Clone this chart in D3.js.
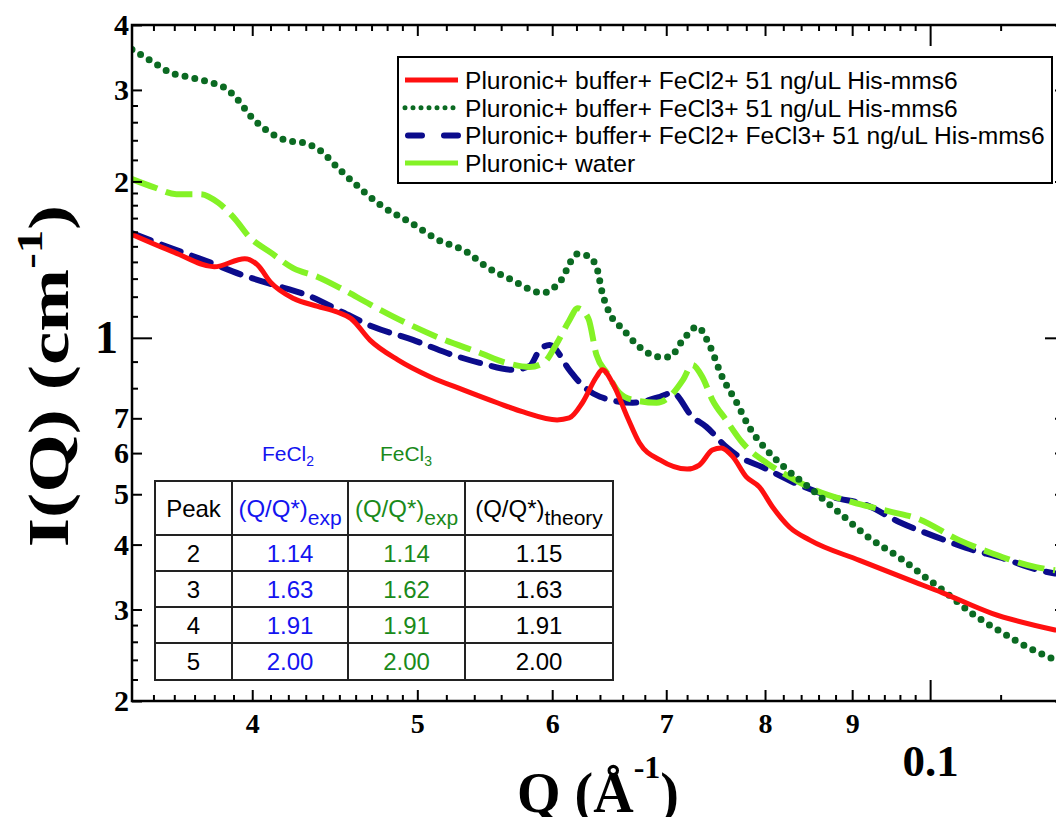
<!DOCTYPE html>
<html>
<head>
<meta charset="utf-8">
<script src="https://cdn.jsdelivr.net/npm/d3@7"></script>
<style>
body{margin:0;background:#fff;}
svg{display:block;}
</style>
</head>
<body>
<svg id="chart" width="1056" height="817"></svg>
<script>
// Q (1/A) and I(Q) (1/cm)
var qRed = [0.0340,0.0360,0.0380,0.0396,0.0403,0.0410,0.0423,0.0437,0.0449,0.0457,0.0469,0.0487,0.0509,0.0532,0.0557,0.0577,0.0604,0.0614,0.0625,0.0637,0.0642,0.0651,0.0664,0.0675,0.0694,0.0720,0.0732,0.0745,0.0754,0.0766,0.0780,0.0794,0.0808,0.0827,0.0850,0.0909,0.0972,0.1017,0.1087,0.1184];
var iRed = [1.58,1.46,1.37,1.42,1.38,1.28,1.19,1.15,1.12,1.09,0.99,0.907,0.841,0.794,0.750,0.720,0.695,0.701,0.750,0.841,0.868,0.819,0.705,0.628,0.582,0.559,0.569,0.608,0.614,0.590,0.540,0.516,0.473,0.432,0.408,0.373,0.342,0.323,0.295,0.274];

var qGreen = [0.0340,0.0350,0.0358,0.0368,0.0377,0.0387,0.0392,0.0400,0.0410,0.0421,0.0427,0.0438,0.0450,0.0458,0.0477,0.0495,0.0513,0.0535,0.0549,0.0569,0.0582,0.0592,0.0606,0.0621,0.0629,0.0637,0.0642,0.0648,0.0660,0.0675,0.0694,0.0703,0.0716,0.0730,0.0742,0.0755,0.0770,0.0783,0.0802,0.0821,0.0853,0.0885,0.0921,0.0959,0.0995,0.1022,0.1058,0.1102,0.1143,0.1184];
var iGreen = [3.59,3.39,3.24,3.17,3.11,3.00,2.88,2.65,2.48,2.39,2.38,2.30,2.11,2.00,1.79,1.67,1.55,1.46,1.37,1.29,1.24,1.22,1.28,1.45,1.44,1.37,1.22,1.12,1.04,0.961,0.919,0.919,0.991,1.05,0.969,0.841,0.750,0.674,0.608,0.564,0.509,0.460,0.412,0.378,0.345,0.323,0.295,0.271,0.253,0.240];

var qBlue = [0.0340,0.0360,0.0375,0.0395,0.0410,0.0433,0.0452,0.0471,0.0497,0.0520,0.0544,0.0569,0.0582,0.0590,0.0598,0.0614,0.0623,0.0640,0.0669,0.0694,0.0706,0.0725,0.0739,0.0759,0.0773,0.0797,0.0838,0.0876,0.0917,0.0959,0.1008,0.1050,0.1102,0.1159,0.1184];
var iBlue = [1.59,1.48,1.41,1.32,1.27,1.20,1.12,1.05,0.991,0.936,0.895,0.868,0.883,0.948,0.969,0.868,0.819,0.770,0.750,0.770,0.784,0.705,0.674,0.617,0.590,0.564,0.521,0.494,0.477,0.442,0.414,0.394,0.377,0.357,0.352];

var qLime = [0.0340,0.0350,0.0361,0.0373,0.0382,0.0391,0.0398,0.0410,0.0423,0.0437,0.0452,0.0469,0.0492,0.0515,0.0544,0.0564,0.0582,0.0593,0.0604,0.0614,0.0621,0.0630,0.0637,0.0646,0.0657,0.0669,0.0691,0.0703,0.0716,0.0725,0.0735,0.0745,0.0759,0.0776,0.0802,0.0827,0.0853,0.0900,0.0950,0.0981,0.1040,0.1087,0.1154,0.1184];
var iLime = [2.02,1.95,1.89,1.89,1.82,1.69,1.57,1.46,1.36,1.31,1.24,1.16,1.07,1.00,0.936,0.895,0.879,0.895,0.978,1.08,1.14,1.09,0.927,0.856,0.784,0.760,0.750,0.770,0.830,0.887,0.841,0.760,0.695,0.628,0.574,0.540,0.512,0.483,0.462,0.450,0.408,0.385,0.362,0.357];

var legendLabels = ["Pluronic+ buffer+ FeCl2+ 51 ng/uL His-mms6",
                    "Pluronic+ buffer+ FeCl3+ 51 ng/uL His-mms6",
                    "Pluronic+ buffer+ FeCl2+ FeCl3+ 51 ng/uL His-mms6",
                    "Pluronic+ water"];

// ticks
var xMajor = [0.1];
var xMid = [0.04,0.05,0.06,0.07,0.08,0.09];
var xMidLabels = ["4","5","6","7","8","9"];
var xMinor = [0.035,0.036,0.037,0.038,0.039,0.041,0.042,0.043,0.044,0.045,0.046,0.047,0.048,0.049,
              0.052,0.054,0.056,0.058,0.062,0.064,0.066,0.068,0.072,0.074,0.076,0.078,
              0.082,0.084,0.086,0.088,0.092,0.094,0.096,0.098,0.11];
var yMajor = [1];
var yMid = [4,3,2,0.7,0.6,0.5,0.4,0.3,0.2];
var yMidLabels = ["4","3","2","7","6","5","4","3","2"];
var yMinor = [2.8,2.6,2.4,2.2,1.9,1.8,1.7,1.6,1.5,1.4,1.3,1.2,1.1,0.9,0.8,0.28,0.26,0.24,0.22];

// table
var peaks = ["2","3","4","5"];
var fecl2Ratio = ["1.14","1.63","1.91","2.00"];
var fecl3Ratio = ["1.14","1.62","1.91","2.00"];
var theoryRatio = ["1.15","1.63","1.91","2.00"];

var svg = d3.select("#chart");
var pL = 132, pR = 1065, pT = 25, pB = 701;
var x = d3.scaleLog().domain([0.034, 0.12]).range([pL, pR]);
var y = d3.scaleLog().domain([0.2, 4]).range([pB, pT]);

var serif = "'Liberation Serif','Times New Roman',serif";
var sans = "'Liberation Sans',Arial,sans-serif";

svg.append("defs").append("clipPath").attr("id","plotclip")
    .append("rect").attr("x",pL).attr("y",pT).attr("width",pR-pL).attr("height",pB-pT);

var series = [
    {q:qBlue, v:iBlue, color:"#0c0c8c", width:6, dash:"20 12", cap:"round"},
    {q:qLime, v:iLime, color:"#84f226", width:6, dash:"27 9", cap:"butt"},
    {q:qGreen, v:iGreen, color:"#0b6a22", width:7, dash:"0 10", cap:"round"},
    {q:qRed, v:iRed, color:"#ff1010", width:5, dash:null, cap:"round"}
];

var line = d3.line()
    .x(function(d){ return x(d[0]); })
    .y(function(d){ return y(d[1]); })
    .curve(d3.curveMonotoneX);

var plot = svg.append("g").attr("clip-path","url(#plotclip)");
series.forEach(function(s){
    var pts = s.q.map(function(q,i){ return [q, s.v[i]]; });
    plot.append("path")
        .attr("d", line(pts))
        .attr("fill","none")
        .attr("stroke", s.color)
        .attr("stroke-width", s.width)
        .attr("stroke-linecap", s.cap)
        .attr("stroke-linejoin","round")
        .attr("stroke-dasharray", s.dash);
});

// axes
function addAxis(axis, tx, ty, vals, len, fmt, pad, size){
    var g = svg.append("g").attr("transform","translate("+tx+","+ty+")")
        .call(axis.tickValues(vals).tickSize(-len).tickPadding(pad).tickFormat(fmt));
    g.select(".domain").remove();
    g.attr("font-size",size).attr("font-family",serif);
    g.selectAll(".tick line").attr("stroke","#000").attr("stroke-width",2);
    g.selectAll(".tick text").attr("font-family",serif).attr("font-weight","bold")
        .style("font-size",size+"px").attr("fill","#000");
    return g;
}
var none = function(){ return ""; };
addAxis(d3.axisBottom(x), 0, pB, xMinor, 6, none, 0, 10);
addAxis(d3.axisBottom(x), 0, pB, xMid, 11, function(d,i){ return xMidLabels[i]; }, 12, 28);
addAxis(d3.axisBottom(x), 0, pB, xMajor, 21, function(){ return "0.1"; }, 43, 45);
addAxis(d3.axisTop(x), 0, pT, xMinor, 6, none, 0, 10);
addAxis(d3.axisTop(x), 0, pT, xMid, 11, none, 0, 10);
addAxis(d3.axisTop(x), 0, pT, xMajor, 21, none, 0, 10);

addAxis(d3.axisLeft(y), pL, 0, yMinor, 6, none, 0, 10);
addAxis(d3.axisLeft(y), pL, 0, yMid, 10, function(d,i){ return yMidLabels[i]; }, 3, 30);
addAxis(d3.axisLeft(y), pL, 0, yMajor, 20, function(){ return "1"; }, 14, 46);
addAxis(d3.axisRight(y), pR, 0, yMinor, 6, none, 0, 10);
addAxis(d3.axisRight(y), pR, 0, yMid, 10, none, 0, 10);
addAxis(d3.axisRight(y), pR, 0, yMajor, 20, none, 0, 10);

// frame
svg.append("rect").attr("x",pL).attr("y",pT).attr("width",pR-pL).attr("height",pB-pT)
    .attr("fill","none").attr("stroke","#000").attr("stroke-width",2.5);

// axis titles
var yt = svg.append("text")
    .attr("transform","translate(68,376) rotate(-90) scale(1.3,1)")
    .attr("text-anchor","middle")
    .attr("font-family",serif).attr("font-weight","bold").attr("font-size",58);
yt.append("tspan").text("I(Q) (cm");
yt.append("tspan").attr("font-size",36).attr("dy",-26).text("-1");
yt.append("tspan").attr("dy",26).text(")");

var xt = svg.append("text")
    .attr("x",598).attr("y",812)
    .attr("text-anchor","middle")
    .attr("font-family",serif).attr("font-weight","bold").attr("font-size",56);
xt.append("tspan").text("Q (\u00C5");
xt.append("tspan").attr("font-size",32).attr("dy",-34).text("-1");
xt.append("tspan").attr("dy",34).text(")");

// legend
var lg = svg.append("g");
lg.append("rect").attr("x",398).attr("y",57).attr("width",654).attr("height",126)
    .attr("fill","#fff").attr("stroke","#000").attr("stroke-width",2);
var legendStyle = [
    {color:"#ff1010", width:5, dash:null, cap:"butt"},
    {color:"#0b6a22", width:5, dash:"0 8", cap:"round"},
    {color:"#0c0c8c", width:6, dash:"14 22", cap:"round"},
    {color:"#84f226", width:5, dash:null, cap:"butt"}
];
legendLabels.forEach(function(t,i){
    var cy = 80 + i*27.7;
    var st = legendStyle[i];
    lg.append("line").attr("x1", i==2 ? 408 : 405).attr("x2",458).attr("y1",cy).attr("y2",cy)
        .attr("stroke",st.color).attr("stroke-width",st.width)
        .attr("stroke-linecap",st.cap).attr("stroke-dasharray",st.dash);
    lg.append("text").attr("x",465).attr("y",cy).attr("dy","0.36em")
        .attr("font-family",sans).attr("font-size",24.6).attr("fill","#000").text(t);
});

// table
var colX = [155,232,348,465,613];
var rowY = [481,535,571,607,643,680];
var colColor = ["#000","#1414f0","#1a8a1a","#000"];
var tb = svg.append("g");
tb.append("rect").attr("x",colX[0]).attr("y",rowY[0]).attr("width",colX[4]-colX[0]).attr("height",rowY[5]-rowY[0])
    .attr("fill","#fff").attr("stroke","#222").attr("stroke-width",2);
colX.slice(1,4).forEach(function(cx){
    tb.append("line").attr("x1",cx).attr("x2",cx).attr("y1",rowY[0]).attr("y2",rowY[5])
        .attr("stroke","#222").attr("stroke-width",2);
});
rowY.slice(1,5).forEach(function(ry){
    tb.append("line").attr("x1",colX[0]).attr("x2",colX[4]).attr("y1",ry).attr("y2",ry)
        .attr("stroke","#222").attr("stroke-width",2);
});
function cellText(col, yy, size){
    return tb.append("text").attr("x",(colX[col]+colX[col+1])/2).attr("y",yy)
        .attr("text-anchor","middle").attr("font-family",sans).attr("font-size",size)
        .attr("fill",colColor[col]);
}
cellText(0, 517, 24).text("Peak");
[1,2,3].forEach(function(c){
    var t = cellText(c, 517, 24);
    t.append("tspan").text("(Q/Q*)");
    t.append("tspan").attr("font-size",21).attr("dy",8).text(c==3 ? "theory" : "exp");
});
var cols = [peaks, fecl2Ratio, fecl3Ratio, theoryRatio];
cols.forEach(function(arr,c){
    arr.forEach(function(v,r){
        cellText(c, (rowY[r+1]+rowY[r+2])/2 + 8.5, 24).text(v);
    });
});
var f2 = tb.append("text").attr("x",288).attr("y",461).attr("text-anchor","middle")
    .attr("font-family",sans).attr("font-size",21).attr("fill",colColor[1]);
f2.append("tspan").text("FeCl");
f2.append("tspan").attr("font-size",14).attr("dy",5).text("2");
var f3 = tb.append("text").attr("x",406).attr("y",461).attr("text-anchor","middle")
    .attr("font-family",sans).attr("font-size",21).attr("fill",colColor[2]);
f3.append("tspan").text("FeCl");
f3.append("tspan").attr("font-size",14).attr("dy",5).text("3");
</script>
</body>
</html>
